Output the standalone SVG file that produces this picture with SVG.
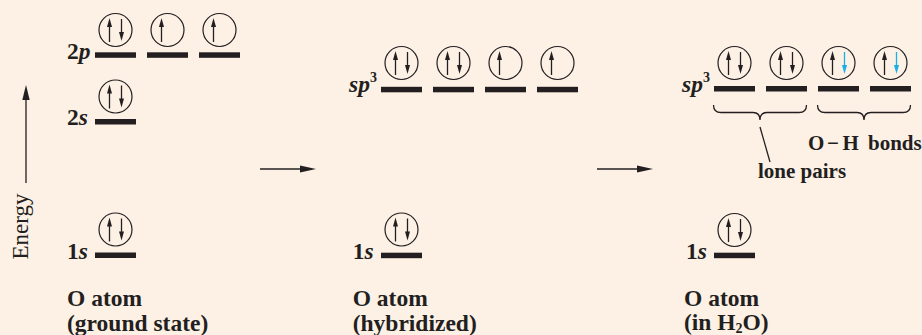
<svg xmlns="http://www.w3.org/2000/svg" xmlns:xlink="http://www.w3.org/1999/xlink" width="922" height="335" viewBox="0 0 922 335">
<style>
.lbl{font-family:"Liberation Serif","Times New Roman",serif;font-weight:bold;font-size:23.5px;fill:#231f20}
.small{font-family:"Liberation Serif","Times New Roman",serif;font-weight:bold;font-size:21px;fill:#231f20}
.reg{font-family:"Liberation Serif","Times New Roman",serif;font-size:23px;fill:#231f20}
.it{font-style:italic}
.bar{fill:#231f20}
.orb{fill:none;stroke:#231f20;stroke-width:1.2}
.ln{stroke:#231f20;stroke-width:1.3;fill:none}
.hd{fill:#231f20}
.bln{stroke:#1aaee6;stroke-width:1.3;fill:none}
.bhd{fill:#1aaee6}
</style>
<defs>
<g id="up"><line class="ln" x1="-6" y1="12" x2="-6" y2="-4"/><polygon class="hd" points="-6,-12 -8.5,-3 -3.5,-3"/></g>
<g id="down"><line class="ln" x1="6" y1="-11" x2="6" y2="4"/><polygon class="hd" points="6,11 3.5,2 8.5,2"/></g>
<g id="downB"><line class="bln" x1="6" y1="-11" x2="6" y2="4"/><polygon class="bhd" points="6,11 3.5,2 8.5,2"/></g>
<g id="single"><circle class="orb" r="16.5"/><use xlink:href="#up"/></g>
<g id="pair"><circle class="orb" r="16.5"/><use xlink:href="#up"/><use xlink:href="#down"/></g>
<g id="pairB"><circle class="orb" r="16.5"/><use xlink:href="#up"/><use xlink:href="#downB"/></g>
<rect id="bar" class="bar" width="41" height="5.5"/>
</defs>
<rect width="922" height="335" fill="#fdf1e6"/>

<g id="energy-axis">
<line class="ln" x1="26" y1="183" x2="26" y2="98"/>
<polygon class="hd" points="26,85 22.3,100 29.7,100"/>
<text class="reg" text-anchor="middle" transform="translate(27.5,226.5) rotate(-90)">Energy</text>
</g>

<g id="ground-state">
<text class="lbl" x="67" y="58.5">2<tspan class="it">p</tspan></text>
<use xlink:href="#bar" x="95" y="52.3"/><use xlink:href="#bar" x="147" y="52.3"/><use xlink:href="#bar" x="199" y="52.3"/>
<use xlink:href="#pair" x="115.5" y="30"/><use xlink:href="#single" x="167.5" y="30"/><use xlink:href="#single" x="219.5" y="30"/>
<text class="lbl" x="67" y="125">2<tspan class="it">s</tspan></text>
<use xlink:href="#bar" x="95" y="119"/>
<use xlink:href="#pair" x="115.5" y="96.5"/>
<text class="lbl" x="67" y="258.5">1<tspan class="it">s</tspan></text>
<use xlink:href="#bar" x="95" y="252.5"/>
<use xlink:href="#pair" x="115.5" y="229.5"/>
<text class="lbl" x="67" y="306">O atom</text>
<text class="lbl" x="67" y="331">(ground state)</text>
</g>

<g id="hybridized">
<text class="lbl" x="349" y="92"><tspan class="it">sp</tspan><tspan font-size="14" dy="-10">3</tspan></text>
<use xlink:href="#bar" x="381" y="86.8"/><use xlink:href="#bar" x="433" y="86.8"/><use xlink:href="#bar" x="485" y="86.8"/><use xlink:href="#bar" x="537" y="86.8"/>
<use xlink:href="#pair" x="401.5" y="63"/><use xlink:href="#pair" x="453.5" y="63"/><use xlink:href="#single" x="505.5" y="63"/><use xlink:href="#single" x="557.5" y="63"/>
<text class="lbl" x="352.7" y="258.5">1<tspan class="it">s</tspan></text>
<use xlink:href="#bar" x="381" y="252.7"/>
<use xlink:href="#pair" x="401.5" y="229.5"/>
<text class="lbl" x="352.7" y="306">O atom</text>
<text class="lbl" x="352.7" y="331">(hybridized)</text>
</g>

<g id="in-water">
<text class="lbl" x="682" y="91.5"><tspan class="it">sp</tspan><tspan font-size="14" dy="-10">3</tspan></text>
<use xlink:href="#bar" x="714" y="86"/><use xlink:href="#bar" x="766" y="86"/><use xlink:href="#bar" x="818" y="86"/><use xlink:href="#bar" x="870" y="86"/>
<use xlink:href="#pair" x="734.5" y="63"/><use xlink:href="#pair" x="786.5" y="63"/><use xlink:href="#pairB" x="838.5" y="63"/><use xlink:href="#pairB" x="890.5" y="63"/>
<text class="lbl" x="686" y="258.5">1<tspan class="it">s</tspan></text>
<use xlink:href="#bar" x="714" y="252.7"/>
<use xlink:href="#pair" x="734.5" y="230"/>
<text class="lbl" x="684" y="306">O atom</text>
<text class="lbl" x="684" y="330">(in H<tspan font-size="14" dy="2.5">2</tspan><tspan dy="-2.5">O)</tspan></text>
</g>

<g id="annotations">
<path class="ln" d="M713.5,105 Q713.5,112.5 721,112.5 L753,112.5 Q760,112.5 760,120 Q760,112.5 767,112.5 L799,112.5 Q806.5,112.5 806.5,105"/>
<path class="ln" d="M817.5,105 Q817.5,112.5 825,112.5 L857,112.5 Q864,112.5 864,120 Q864,112.5 871,112.5 L903,112.5 Q910.5,112.5 910.5,105"/>
<text class="small" y="150"><tspan x="808">O</tspan><tspan x="827">−</tspan><tspan x="842.5">H</tspan><tspan x="868">bonds</tspan></text>
<text class="small" x="758" y="178">lone pairs</text>
</g>

<g id="connectors">
<line class="ln" x1="760" y1="127" x2="770" y2="162"/>
<line class="ln" x1="260" y1="169" x2="302" y2="169"/>
<polygon class="hd" points="316,169 300,165.5 300,172.5"/>
<line class="ln" x1="597" y1="169" x2="639" y2="169"/>
<polygon class="hd" points="653,169 637,165.5 637,172.5"/>
</g>
</svg>
